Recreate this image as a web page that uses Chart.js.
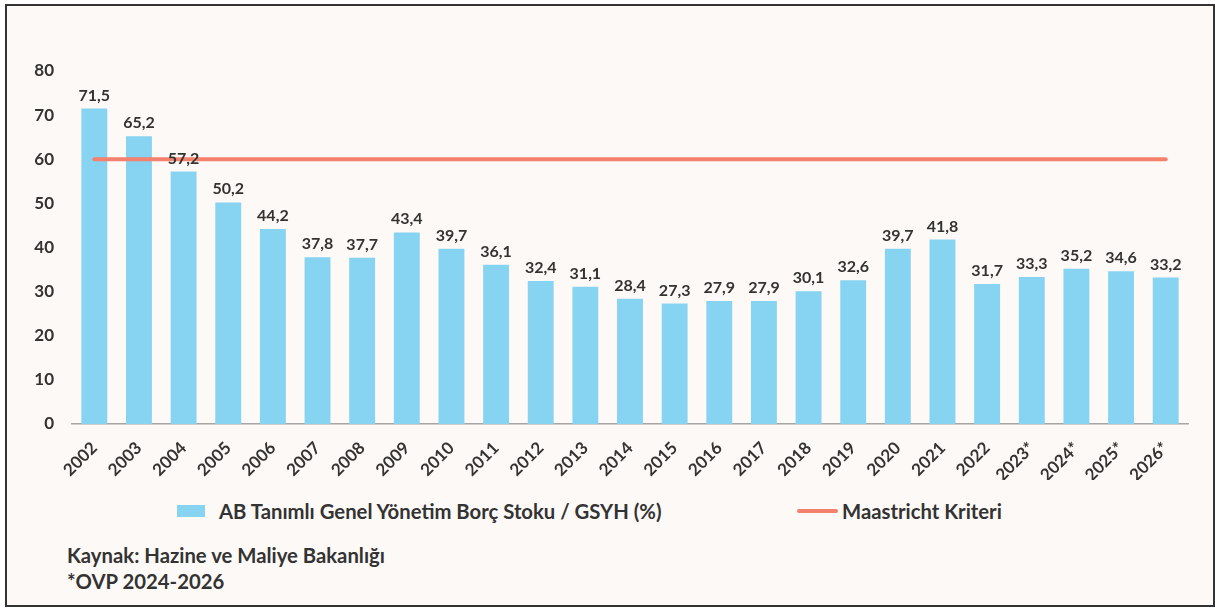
<!DOCTYPE html>
<html>
<head>
<meta charset="utf-8">
<script src="https://cdn.jsdelivr.net/npm/chart.js@4/dist/chart.umd.min.js"></script>
<style>
  html, body { margin: 0; padding: 0; background: #ffffff; }
  body { width: 1215px; height: 608px; position: relative; overflow: hidden; font-family: Lato, sans-serif; }
  #frame { position: absolute; left: 5px; top: 4px; width: 1206px; height: 599px; border: 2px solid #333333; background: #fdf9f6; }
  #wrap { position: absolute; left: 0; top: 0; width: 1215px; height: 480px; }
  .leg { position: absolute; font-weight: bold; font-size: 20.3px; color: #333333; line-height: 20px; white-space: nowrap; }
  .note { position: absolute; left: 67px; font-weight: bold; font-size: 20.3px; color: #333333; line-height: 20px; white-space: nowrap; }
</style>
</head>
<body>
<div id="frame"></div>
<div id="wrap"><canvas id="debtChart" width="1215" height="480"></canvas></div>

<div style="position:absolute;left:177px;top:505px;width:28px;height:12px;background:#87d3f2;"></div>
<div class="leg" style="left:219px;top:501px;">AB Tanımlı Genel Yönetim Borç Stoku / GSYH (%)</div>
<div style="position:absolute;left:797px;top:509px;width:41px;height:4px;border-radius:2px;background:#f3816d;"></div>
<div class="leg" style="left:842px;top:501px;">Maastricht Kriteri</div>

<div class="note" style="top:545px;">Kaynak: Hazine ve Maliye Bakanlığı</div>
<div class="note" style="top:571px;">*OVP 2024-2026</div>

<script>
var years = ['2002','2003','2004','2005','2006','2007','2008','2009','2010','2011','2012','2013','2014',
	'2015','2016','2017','2018','2019','2020','2021','2022','2023*','2024*','2025*','2026*'];
var debtRatio = [71.5,65.2,57.2,50.2,44.2,37.8,37.7,43.4,39.7,36.1,32.4,31.1,28.4,
	27.3,27.9,27.9,30.1,32.6,39.7,41.8,31.7,33.3,35.2,34.6,33.2];
var maastricht = [60,60,60,60,60,60,60,60,60,60,60,60,60,60,60,60,60,60,60,60,60,60,60,60,60];
var yTicks = [0,10,20,30,40,50,60,70,80];

var textColor = '#333333';

// value labels over the bars
var barValueLabels = {
	id: 'barValueLabels',
	afterDatasetsDraw: function(chart){
		var ctx = chart.ctx;
		var meta = chart.getDatasetMeta(0);
		ctx.save();
		ctx.font = 'bold 16px Lato';
		ctx.fillStyle = textColor;
		ctx.textAlign = 'center';
		ctx.textBaseline = 'alphabetic';
		meta.data.forEach(function(bar, i){
			var txt = debtRatio[i].toFixed(1).replace('.', ',');
			ctx.fillText(txt, bar.x, bar.y - 8);
		});
		ctx.restore();
	}
};

new Chart(document.getElementById('debtChart'), {
	data: {
		labels: years,
		datasets: [
			{
				type: 'bar',
				label: 'AB Tanımlı Genel Yönetim Borç Stoku / GSYH (%)',
				data: debtRatio,
				backgroundColor: '#87d3f2',
				categoryPercentage: 1,
				barPercentage: 0.58,
				order: 1
			},
			{
				type: 'line',
				label: 'Maastricht Kriteri',
				data: maastricht,
				borderColor: '#f3816d',
				borderWidth: 4,
				borderCapStyle: 'round',
				pointRadius: 0,
				fill: false,
				order: 0
			}
		]
	},
	options: {
		responsive: false,
		animation: false,
		layout: { padding: { top: 71, right: 27, left: 0, bottom: 0 } },
		plugins: {
			legend: { display: false },
			tooltip: { enabled: false }
		},
		scales: {
			x: {
				grid: { display: false, drawTicks: false },
				border: { display: true, color: '#a6a6a6', width: 1.5 },
				ticks: {
					minRotation: 45, maxRotation: 45,
					padding: 14,
					color: textColor,
					font: { family: 'Lato', weight: 'bold', size: 17 }
				},
				afterFit: function(scale){ scale.height = 56; }
			},
			y: {
				min: 0, max: 80,
				grid: { display: false, drawTicks: false },
				border: { display: false },
				afterBuildTicks: function(scale){
					scale.ticks = yTicks.map(function(v){ return { value: v }; });
				},
				ticks: {
					padding: 18,
					color: textColor,
					font: { family: 'Lato', weight: 'bold', size: 17 }
				},
				afterFit: function(scale){ scale.width = 72; }
			}
		}
	},
	plugins: [barValueLabels]
});
</script>
</body>
</html>
